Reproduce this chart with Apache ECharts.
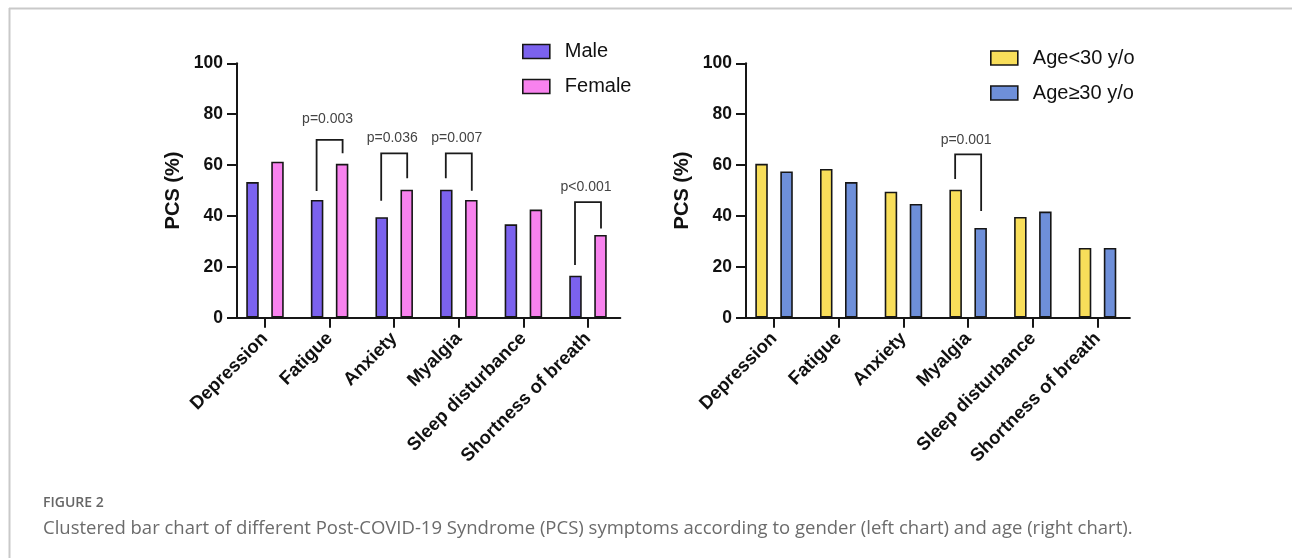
<!DOCTYPE html>
<html>
<head>
<meta charset="utf-8">
<script src="https://cdn.jsdelivr.net/npm/echarts@6/dist/echarts.min.js"></script>
<style>
html,body{margin:0;padding:0;background:#fff;}
#chart{width:1292px;height:558px;}
</style>
</head>
<body>
<div id="chart"></div>
<script>
// ---- data ----
const categories = ['Depression', 'Fatigue', 'Anxiety', 'Myalgia', 'Sleep disturbance', 'Shortness of breath'];
const yTicks = [0, 20, 40, 60, 80, 100];
const maleValues = [53.3, 46.3, 39.5, 50.3, 36.7, 16.5];
const femaleValues = [61.3, 60.5, 50.3, 46.3, 42.5, 32.5];
const under30Values = [60.5, 58.5, 49.5, 50.3, 39.6, 27.4];
const over30Values = [57.5, 53.3, 44.7, 35.3, 41.7, 27.4];
// significance brackets: [category index, bracket top, left leg end, right leg end, label y]
const genderBrackets = [
  [1, 69.9, 49.8, 64.6, 78.0],
  [2, 64.6, 46.0, 54.8, 70.5],
  [3, 64.6, 54.8, 49.9, 70.5],
  [5, 45.4, 20.7, 35.1, 51.3]
];
const genderBracketLabels = ['p=0.003', 'p=0.036', 'p=0.007', 'p<0.001'];
const ageBrackets = [
  [3, 64.2, 54.5, 41.9, 69.7]
];
const ageBracketLabels = ['p=0.001'];
const captionLabel = 'FIGURE 2';
const captionText = 'Clustered bar chart of different Post-COVID-19 Syndrome (PCS) symptoms according to gender (left chart) and age (right chart).';

// ---- styles ----
const BORDER = '#161616';
const FONT = '"Liberation Sans", Arial, sans-serif';
const barBase = { type: 'bar', barWidth: 12.5, barGap: '100%' };

function bracketRenderer(labels) {
  return function (params, api) {
    const idx = api.value(0);
    const top = api.coord([idx, api.value(1)]);
    const l = api.coord([idx, api.value(2)]);
    const r = api.coord([idx, api.value(3)]);
    const t = api.coord([idx, api.value(4)]);
    const off = 13;
    const xl = top[0] - off, xr = top[0] + off;
    return {
      type: 'group',
      children: [
        { type: 'polyline', shape: { points: [[xl, l[1]], [xl, top[1]], [xr, top[1]], [xr, r[1]]] },
          style: { stroke: '#1a1a1a', lineWidth: 1.8, fill: null } },
        { type: 'text', x: top[0] - 2, y: t[1],
          style: { text: labels[params.dataIndex], align: 'center', verticalAlign: 'middle',
            fill: '#444', font: '14px ' + FONT } }
      ]
    };
  };
}

function xAxisCfg(gridIndex) {
  return {
    type: 'category', gridIndex: gridIndex, data: categories,
    axisLine: { lineStyle: { color: BORDER, width: 2 } },
    axisTick: { show: true, alignWithLabel: true, length: 10, lineStyle: { color: BORDER, width: 2 } },
    axisLabel: { rotate: 45, margin: 18, color: '#111', fontWeight: 'bold', fontSize: 18.5,
      fontFamily: FONT, interval: 0 }
  };
}
function yAxisCfg(gridIndex) {
  return {
    type: 'value', gridIndex: gridIndex, min: yTicks[0], max: yTicks[yTicks.length - 1],
    interval: yTicks[1] - yTicks[0], offset: -4.3,
    name: 'PCS (%)', nameLocation: 'middle', nameRotate: 90, nameGap: 54,
    nameTextStyle: { fontWeight: 'bold', fontSize: 20, color: '#111', fontFamily: FONT },
    axisLine: { show: true, lineStyle: { color: BORDER, width: 2 } },
    axisTick: { show: true, length: 10, lineStyle: { color: BORDER, width: 2 } },
    axisLabel: { margin: 14, color: '#111', fontWeight: 'bold', fontSize: 17.5, fontFamily: FONT },
    splitLine: { show: false }
  };
}
function legendCfg(left, top, names) {
  return {
    orient: 'vertical', left: left, top: top, data: names, icon: 'rect', padding: 0,
    itemWidth: 27, itemHeight: 14, itemGap: 15,
    itemStyle: { borderColor: BORDER, borderWidth: 1.6 },
    textStyle: { fontSize: 20, color: '#111', fontFamily: FONT, padding: [0, 0, 0, 10] },
    selectedMode: false
  };
}

const chart = echarts.init(document.getElementById('chart'), null, { renderer: 'canvas' });
chart.setOption({
  animation: false,
  backgroundColor: '#fff',
  title: [
    { text: captionLabel, left: 38, top: 491,
      textStyle: { fontSize: 14, fontWeight: 600, color: '#666', fontFamily: '"Open Sans", sans-serif' } },
    { text: captionText, left: 38, top: 514,
      textStyle: { fontSize: 18.5, fontWeight: 'normal', color: '#6b6b6b', fontFamily: '"Open Sans", sans-serif' } }
  ],
  graphic: [
    { type: 'line', shape: { x1: 9, y1: 8.5, x2: 1292, y2: 8.5 }, style: { stroke: '#c9c9c9', lineWidth: 2 } },
    { type: 'line', shape: { x1: 9.5, y1: 8, x2: 9.5, y2: 558 }, style: { stroke: '#c9c9c9', lineWidth: 2 } }
  ],
  legend: [
    legendCfg(522, 41.5, ['Male', 'Female']),
    legendCfg(990, 48, ['Age<30 y/o', 'Age\u226530 y/o'])
  ],
  grid: [
    { left: 232.7, top: 63.3, width: 387.6, height: 254.4 },
    { left: 741.7, top: 63.3, width: 388.2, height: 254.4 }
  ],
  xAxis: [xAxisCfg(0), xAxisCfg(1)],
  yAxis: [yAxisCfg(0), yAxisCfg(1)],
  series: [
    Object.assign({}, barBase, { name: 'Male', xAxisIndex: 0, yAxisIndex: 0, data: maleValues,
      itemStyle: { color: '#7b62ee', borderColor: BORDER, borderWidth: 1.6 } }),
    Object.assign({}, barBase, { name: 'Female', xAxisIndex: 0, yAxisIndex: 0, data: femaleValues,
      itemStyle: { color: '#f882ee', borderColor: BORDER, borderWidth: 1.6 } }),
    Object.assign({}, barBase, { name: 'Age<30 y/o', xAxisIndex: 1, yAxisIndex: 1, data: under30Values,
      itemStyle: { color: '#f8de5a', borderColor: BORDER, borderWidth: 1.6 } }),
    Object.assign({}, barBase, { name: 'Age\u226530 y/o', xAxisIndex: 1, yAxisIndex: 1, data: over30Values,
      itemStyle: { color: '#6e8fd9', borderColor: BORDER, borderWidth: 1.6 } }),
    { type: 'custom', xAxisIndex: 0, yAxisIndex: 0, data: genderBrackets, renderItem: bracketRenderer(genderBracketLabels),
      silent: true, z: 5 },
    { type: 'custom', xAxisIndex: 1, yAxisIndex: 1, data: ageBrackets, renderItem: bracketRenderer(ageBracketLabels),
      silent: true, z: 5 }
  ]
});
</script>
</body>
</html>
